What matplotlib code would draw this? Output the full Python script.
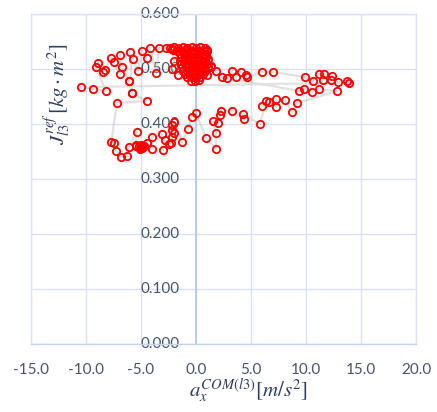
import numpy as np
import matplotlib
matplotlib.use('Agg')
from matplotlib import pyplot as plt

plt.rcParams['font.family'] = ['Lato', 'DejaVu Sans']
plt.rcParams['mathtext.fontset'] = 'stix'

# trajectory of (a_x, J) samples in time order
# dense block of samples around a_x = 0 (drawn as a solid red patch)
cluster_a_x = [-2.4, -2.0, -1.6, -1.2, -0.8, -0.4, 0.0, 0.4, 0.8,
               -1.7, -1.3, -0.9, -0.5, -0.1, 0.3, 0.7, 1.0,
               -1.5, -1.1, -0.7, -0.3, 0.1, 0.5, 0.9,
               -1.4, -1.0, -0.6, -0.2, 0.2, 0.6, 0.9,
               -1.5, -1.1, -0.7, -0.3, 0.1, 0.5, 0.8,
               -1.4, -1.0, -0.6, -0.2, 0.2, 0.6, 1.0,
               -1.3, -0.9, -0.5, -0.1, 0.3, 0.7, 1.1,
               -1.2, -0.8, -0.4, 0.0, 0.4, 0.8,
               -1.0, -0.6, -0.2, 0.2, 0.6,
               -0.8, -0.4, 0.0, 0.4,
               -0.5, -0.1, 0.3]
cluster_a_J = [0.539, 0.540, 0.539, 0.540, 0.539, 0.540, 0.539, 0.540, 0.538,
               0.533, 0.533, 0.534, 0.533, 0.533, 0.532, 0.533, 0.532,
               0.527, 0.527, 0.528, 0.527, 0.527, 0.526, 0.527,
               0.521, 0.521, 0.522, 0.521, 0.521, 0.520, 0.521,
               0.515, 0.515, 0.516, 0.515, 0.515, 0.514, 0.515,
               0.509, 0.509, 0.510, 0.509, 0.509, 0.508, 0.509,
               0.503, 0.503, 0.504, 0.503, 0.503, 0.502, 0.503,
               0.497, 0.497, 0.498, 0.497, 0.497, 0.496,
               0.491, 0.491, 0.492, 0.491, 0.491,
               0.485, 0.485, 0.486, 0.485,
               0.479, 0.479, 0.480]
top_x = [1.0, 1.1, 1.4, 1.8, 2.4, 2.8, 3.3, 3.6, 4.1, 4.5, 4.6, 6.0, 7.0]
top_J = [0.535, 0.518, 0.504, 0.496, 0.485, 0.484, 0.496, 0.485, 0.495, 0.489, 0.485, 0.495, 0.495]
right1_x = [9.9, 10.6, 11.2, 11.6, 12.4, 11.5, 12.3, 12.9, 13.7, 13.9]
right1_J = [0.485, 0.478, 0.491, 0.491, 0.487, 0.480, 0.480, 0.476, 0.478, 0.475]
band_x = [-10.5, -9.4, -8.2]
band_J = [0.467, 0.464, 0.460]
arc_x = [-9.1, -8.9, -8.5, -8.3, -7.7, -7.5, -6.9, -6.9, -6.7, -6.1, -5.8, -6.0, -5.7, -5.3, -4.9,
         -4.5, -4.2, -3.6, -3.4, -2.7, -2.2, -2.1]
arc_J = [0.504, 0.511, 0.495, 0.498, 0.520, 0.513, 0.491, 0.525, 0.504, 0.478, 0.456, 0.531, 0.518,
         0.496, 0.533, 0.520, 0.538, 0.493, 0.538, 0.538, 0.536, 0.535]
cluster_b_x = [-2.0, -2.2, -1.6, -0.3, 0.5, 1.4, 1.0]
cluster_b_J = [0.515, 0.500, 0.490, 0.505, 0.494, 0.505, 0.490]
right2_x = [9.4, 9.8, 10.5, 11.2, 12.8]
right2_J = [0.460, 0.464, 0.459, 0.463, 0.460]
down_x = [9.2, 8.7, 8.1, 7.3, 7.3, 6.6, 6.0, 6.4, 5.8, 4.3, 4.4, 3.3, 2.3, 2.2, 2.0, 1.5, 1.8, 1.8,
          0.9, 0.0, -0.4, -0.7, -1.3, -2.0, -2.2, -2.2, -2.3, -2.0, -2.2, -2.5, -2.8, -3.0, -3.1,
          -4.0, -4.0, -4.5, -5.0, -4.8, -4.9, -5.1, -4.7, -5.0, -5.2, -5.5, -5.5, -5.4, -6.1, -6.3,
          -6.8, -7.3, -7.5, -7.7]
down_J = [0.438, 0.422, 0.444, 0.445, 0.431, 0.440, 0.433, 0.442, 0.400, 0.418, 0.409, 0.424, 0.424,
          0.416, 0.402, 0.405, 0.384, 0.355, 0.375, 0.420, 0.413, 0.391, 0.367, 0.404, 0.389, 0.376,
          0.365, 0.384, 0.398, 0.364, 0.371, 0.353, 0.382, 0.376, 0.355, 0.365, 0.356, 0.358, 0.357,
          0.354, 0.360, 0.362, 0.360, 0.360, 0.362, 0.385, 0.358, 0.342, 0.340, 0.351, 0.365, 0.367]
back_x = [-7.2, -4.5, -5.8, -6.1]
back_J = [0.438, 0.442, 0.456, 0.478]

a_x = np.array(cluster_a_x + top_x + right1_x + band_x + arc_x + cluster_b_x + right2_x + down_x + back_x)
J = np.array(cluster_a_J + top_J + right1_J + band_J + arc_J + cluster_b_J + right2_J + down_J + back_J)

txt_col = '#44546A'
lab_col = '#2F3D63'
grid_col = '#D9E2F3'

fig = plt.figure(figsize=(4.37, 4.12), dpi=100)
ax = fig.add_axes([0.071, 0.165, 0.881, 0.801])

ax.plot(a_x, J, '-', color='#BDBDBD', lw=1.6, alpha=0.45, zorder=2)
ax.plot(a_x, J, 'o', ms=5.3, mfc='none', mec='#FF0000', mew=1.3, zorder=3)

ax.set_xlim(-15, 20)
ax.set_ylim(0, 0.6)
xt = np.arange(-15, 21, 5)
yt = np.arange(0, 0.61, 0.1)
ax.set_xticks(xt)
ax.set_xticklabels(['%.1f' % v for v in xt], color=txt_col, fontsize=11)
ax.set_yticks(yt)
ax.set_yticklabels([])
ax.tick_params(length=0, pad=14)
ax.grid(True, color=grid_col, lw=1.0, zorder=0)
ax.set_axisbelow(True)
for s in ax.spines.values():
    s.set_color(grid_col)
    s.set_linewidth(1.0)
ax.spines['bottom'].set_color('#C5D3EC')
ax.axvline(0, color='#B4C7E7', lw=1.2, zorder=1)

# y tick labels sit next to the vertical axis at x=0
for v in yt:
    ax.annotate('%.3f' % v, (0, v), xytext=(-12, 0), textcoords='offset points',
                ha='right', va='center', color=txt_col, fontsize=11, zorder=1,
                annotation_clip=False)

fig.text(0.568, 0.036, r'$a_x^{COM(l3)}[m/s^2]$', ha='center', va='baseline',
         fontsize=15, color=lab_col)
fig.text(0.133, 0.77, r'$J_{l3}^{ref}\,[kg\cdot m^2]$', ha='center', va='center',
         rotation=90, fontsize=15, color=lab_col)

fig.savefig('out.png', dpi=100)
